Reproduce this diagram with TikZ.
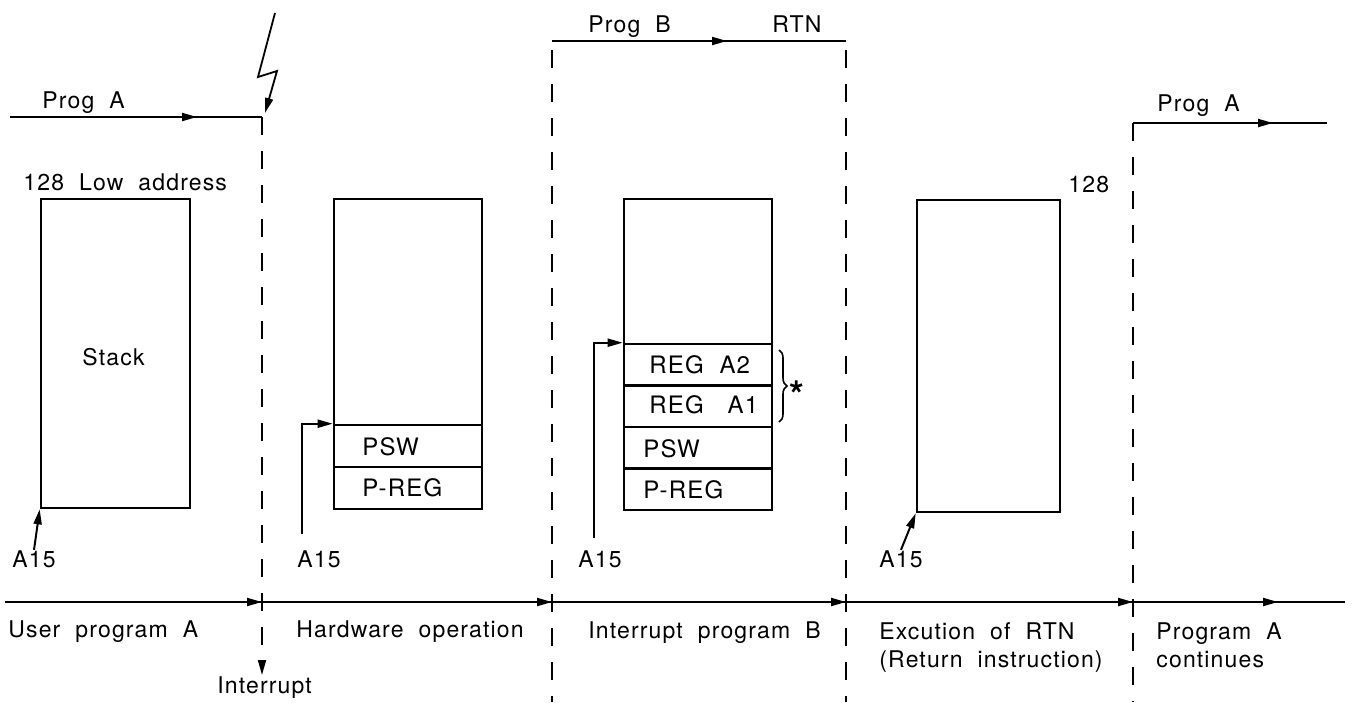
\documentclass[tikz,border=0pt]{standalone}
\usepackage{fontspec}
\setmainfont{TeX Gyre Heros}[LetterSpace=5,WordSpace=2]
\usetikzlibrary{arrows.meta,decorations.pathreplacing}

\begin{document}
\begin{tikzpicture}[x=0.5pt,y=-0.5pt,
  >={Triangle[length=7.5pt,width=4pt]},
  every node/.style={inner sep=0pt},
  lbl/.style={font=\fontsize{11.5}{13}\selectfont, anchor=base west},
  celltxt/.style={font=\fontsize{12}{14}\selectfont, anchor=base west},
  memblock/.style={draw, line width=1.3pt, minimum width=74pt},
  flow/.style={line width=1pt},
  phase/.style={line width=0.9pt, dash pattern=on 9pt off 8pt},
]
\useasboundingbox (0,0) rectangle (1352,702);

% ---- stack pictures ----
\node[memblock, minimum width=74.5pt, minimum height=154.5pt] (stack) at (115.5,353.5) {};
\node[lbl] (stacklbl) at (82,365) {Stack};

\node[memblock, minimum height=113pt] (hw) at (408,312) {};
\node[memblock, minimum height=21pt] (psw2) at (408,446) {};
\node[memblock, minimum height=21pt] (preg2) at (408,488) {};
\node[celltxt] (psw2t) at (362,455) {PSW};
\node[celltxt] (preg2t) at (362,496) {P-REG};

\node[memblock, minimum height=72.5pt] (ib) at (698,271.5) {};
\node[memblock, minimum height=20.75pt] (rega2) at (698,364.75) {};
\node[memblock, minimum height=20.75pt] (rega1) at (698,406.25) {};
\node[memblock, minimum height=20.75pt] (psw3) at (698,447.75) {};
\node[memblock, minimum height=20.75pt] (preg3) at (698,489.25) {};
\node[celltxt] (rega2t) at (649,373) {REG A2};
\node[celltxt] (rega1t) at (649,413) {REG\,\, A1};
\node[celltxt] (psw3t) at (643,457) {PSW};
\node[celltxt] (preg3t) at (643,498) {P-REG};

\node[memblock, minimum width=71.5pt, minimum height=156pt] (rtn) at (988.5,356) {};

% brace over the two saved registers
\draw[decorate, decoration={brace, amplitude=4pt}, line width=0.8pt] (779,350) -- (779,422);
\node[anchor=base, font=\fontsize{19}{19}\bfseries] (star) at (797,408) {*};

% ---- text labels ----
\node[lbl] (progA1) at (42,108) {Prog A};
\node[lbl] (low) at (23,190) {128 Low address};
\node[lbl] (progB) at (588,32) {Prog B};
\node[lbl] (rtnlbl) at (772,32) {RTN};
\node[lbl] (progA2) at (1157,111) {Prog A};
\node[lbl] (n128) at (1068,192) {128};

\node[lbl] (a15a) at (12,567) {A15};
\node[lbl] (a15b) at (297,567) {A15};
\node[lbl] (a15c) at (578,567) {A15};
\node[lbl] (a15d) at (879,567) {A15};

\node[lbl] (ph1) at (8,637) {User program A};
\node[lbl] (ph2) at (296,637) {Hardware operation};
\node[lbl] (ph3) at (588,638) {Interrupt program B};
\node[lbl] (ph4) at (879,639) {Excution of RTN};
\node[lbl] (ph4b) at (879,667) {(Return instruction)};
\node[lbl] (ph5) at (1156,639) {Program A};
\node[lbl] (ph5b) at (1156,667) {continues};
\node[lbl] (intr) at (217,693) {Interrupt};

% ---- stack pointer arrows ----
\draw[flow,->] (a15a.north) -- (stack.south west);
\draw[flow,->,shorten <=8pt] ([xshift=2.5pt]a15b.north west) |- (psw2.north west);
\draw[flow,->,shorten <=6pt] ([xshift=8pt]a15c.north west) |- (rega2.north west);
\draw[flow,->] ([xshift=11pt]a15d.north west) -- (rtn.south west);

% ---- program flow ----
\coordinate (a0) at (10,117);
\coordinate (aA) at (197,117);
\coordinate (ic) at (262,117);
\coordinate (iend) at (262,675);
\coordinate (z0) at (275,13);
\coordinate (z1) at (258,77);
\coordinate (z2) at (277,71);
\coordinate (zt) at (265,113);

\draw[flow] (a0) -- (ic);
\draw[flow,->] (a0) -- (aA);
\draw[phase,->] (ic) -- (iend);
\draw[line width=0.9pt,->] (z0) -- (z1) -- (z2) -- (zt);

\coordinate (b0) at (552,41);
\coordinate (bB) at (727,41);
\coordinate (b1) at (846,41);
\coordinate (d2t) at (552,50);
\coordinate (d2b) at (552,702);
\coordinate (d3t) at (846,50);
\coordinate (d3b) at (846,702);
\draw[flow] (b0) -- (b1);
\draw[flow,->] (b0) -- (bB);
\draw[phase] (d2t) -- (d2b);
\draw[phase] (d3t) -- (d3b);

\coordinate (c0) at (1133,123);
\coordinate (cA) at (1273,123);
\coordinate (c1) at (1327,123);
\coordinate (d4b) at (1133,702);
\draw[flow] (c0) -- (c1);
\draw[flow,->] (c0) -- (cA);
\draw[phase] (c0) -- (d4b);

% ---- time line ----
\coordinate (t0) at (5,602);
\coordinate (t1) at (262,602);
\coordinate (t2) at (552,602);
\coordinate (t3) at (846,602);
\coordinate (t4) at (1133,602);
\coordinate (tA) at (1278,602);
\coordinate (t5) at (1345,602);
\draw[flow] (t0) -- (t5);
\draw[flow,->] (t0) -- (t1);
\draw[flow,->] (t1) -- (t2);
\draw[flow,->] (t2) -- (t3);
\draw[flow,->] (t3) -- (t4);
\draw[flow,->] (t4) -- (tA);
\end{tikzpicture}
\end{document}
